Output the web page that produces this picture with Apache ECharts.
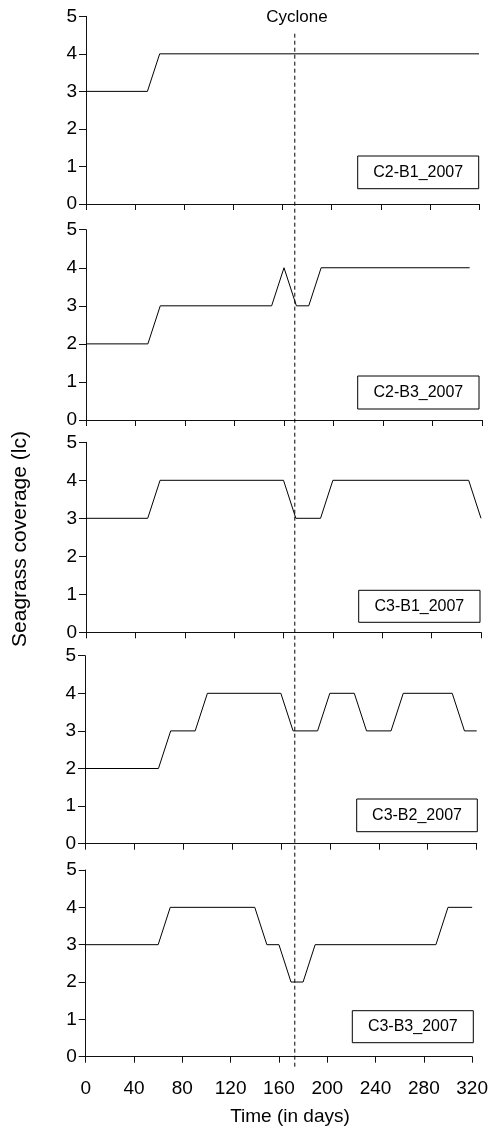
<!DOCTYPE html>
<html><head><meta charset="utf-8">
<script src="https://cdn.jsdelivr.net/npm/echarts@6/dist/echarts.min.js"></script>
<style>html,body{margin:0;padding:0;background:#fff}#c{width:491px;height:1130px}</style>
</head><body><div id="c"></div>
<script>
// ---- data ----
const panelLabels = ['C2-B1_2007', 'C2-B3_2007', 'C3-B1_2007', 'C3-B2_2007', 'C3-B3_2007'];
const c2b1Days = [0, 50, 60, 320];
const c2b1Cover = [3, 3, 4, 4];
const c2b3Days = [0, 50, 60, 150, 160, 170, 180, 190, 310];
const c2b3Cover = [2, 2, 3, 3, 4, 3, 3, 4, 4];
const c3b1Days = [0, 50, 60, 160, 170, 190, 200, 310, 320];
const c3b1Cover = [3, 3, 4, 4, 3, 3, 4, 4, 3];
const c3b2Days = [0, 60, 70, 90, 100, 160, 170, 190, 200, 220, 230, 250, 260, 300, 310, 320];
const c3b2Cover = [2, 2, 3, 3, 4, 4, 3, 3, 4, 4, 3, 3, 4, 4, 3, 3];
const c3b3Days = [0, 60, 70, 140, 150, 160, 170, 180, 190, 290, 300, 320];
const c3b3Cover = [3, 3, 4, 4, 3, 3, 2, 2, 3, 3, 4, 4];
const cycloneDay = 170;
const xTickLabels = [0, 40, 80, 120, 160, 200, 240, 280, 320];
const yTickLabels = [0, 1, 2, 3, 4, 5];
const xTitle = 'Time (in days)';
const yTitle = 'Seagrass coverage (lc)';
const eventLabel = 'Cyclone';

const allDays = [c2b1Days, c2b3Days, c3b1Days, c3b2Days, c3b3Days];
const allCover = [c2b1Cover, c2b3Cover, c3b1Cover, c3b2Cover, c3b3Cover];

// ---- layout ----
const FONT = '"Liberation Sans", Arial, Helvetica, sans-serif';
const grids = [
  {left: 86, top: 16.3, width: 393, height: 187.7},
  {left: 86, top: 229.7, width: 396, height: 190.3},
  {left: 86, top: 442.3, width: 395, height: 190},
  {left: 85, top: 655.7, width: 391.7, height: 188},
  {left: 85.7, top: 870, width: 387, height: 186.7}
];
const boxes = [
  {x: 357.7, y: 156, w: 121, h: 32.7},
  {x: 357.7, y: 376, w: 121.3, h: 33},
  {x: 358.7, y: 590.3, w: 121.3, h: 32},
  {x: 356.7, y: 799, w: 120.6, h: 32.7},
  {x: 352.3, y: 1010.7, w: 121, h: 32}
];

const xStep = xTickLabels[1] - xTickLabels[0];
const yStep = yTickLabels[1] - yTickLabels[0];
const axisColor = '#111';

const gridOpt = [], xAxes = [], yAxes = [], series = [], graphic = [];
grids.forEach((g, i) => {
  gridOpt.push(Object.assign({containLabel: false}, g));
  const last = i === grids.length - 1;
  xAxes.push({
    type: 'value', gridIndex: i,
    min: xTickLabels[0], max: xTickLabels[xTickLabels.length - 1], interval: xStep,
    axisLine: {show: true, lineStyle: {color: axisColor, width: 1}},
    axisTick: {show: true, inside: false, length: 6, lineStyle: {color: axisColor}},
    axisLabel: {show: last, margin: 23, fontSize: 19, color: '#000', fontFamily: FONT},
    splitLine: {show: false}
  });
  yAxes.push({
    type: 'value', gridIndex: i,
    min: yTickLabels[0], max: yTickLabels[yTickLabels.length - 1], interval: yStep,
    axisLine: {show: true, lineStyle: {color: axisColor, width: 1}},
    axisTick: {show: true, inside: false, length: 7, lineStyle: {color: axisColor}},
    axisLabel: {show: true, margin: 9, fontSize: 19, color: '#000', fontFamily: FONT},
    splitLine: {show: false}
  });
  series.push({
    type: 'line', xAxisIndex: i, yAxisIndex: i,
    data: allDays[i].map((d, j) => [d, allCover[i][j]]),
    symbol: 'none', lineStyle: {color: '#000', width: 1}, silent: true, z: 3
  });
  const b = boxes[i];
  graphic.push({
    type: 'rect', shape: {x: b.x, y: b.y, width: b.w, height: b.h},
    style: {stroke: '#000', fill: '#fff', lineWidth: 1}, z: 10
  });
  graphic.push({
    type: 'text', x: b.x + b.w / 2, y: b.y + b.h / 2, z: 11,
    style: {text: panelLabels[i], font: '16px ' + FONT, fill: '#000', textAlign: 'center', textVerticalAlign: 'middle'}
  });
});

// overlay grid for the cyclone line spanning all panels
gridOpt.push({left: 86, top: 31.7, width: 393, height: 1035});
xAxes.push({type: 'value', gridIndex: 5, min: xTickLabels[0], max: xTickLabels[xTickLabels.length - 1], show: false});
yAxes.push({type: 'value', gridIndex: 5, min: 0, max: 1, show: false});
series.push({
  type: 'line', xAxisIndex: 5, yAxisIndex: 5,
  data: [[cycloneDay, 0], [cycloneDay, 1]],
  symbol: 'none', lineStyle: {color: '#000', width: 1, type: [4, 3]}, silent: true, z: 4
});

graphic.push({
  type: 'text', x: 297, y: 17,
  style: {text: eventLabel, font: '17px ' + FONT, fill: '#000', textAlign: 'center', textVerticalAlign: 'middle'}
});
graphic.push({
  type: 'text', x: 290, y: 1117,
  style: {text: xTitle, font: '19px ' + FONT, fill: '#000', textAlign: 'center', textVerticalAlign: 'middle'}
});
graphic.push({
  type: 'text', x: 20, y: 539, rotation: Math.PI / 2,
  style: {text: yTitle, font: '21px ' + FONT, fill: '#000', textAlign: 'center', textVerticalAlign: 'middle'}
});

const chart = echarts.init(document.getElementById('c'), null, {renderer: 'canvas'});
chart.setOption({
  animation: false,
  backgroundColor: '#fff',
  grid: gridOpt,
  xAxis: xAxes,
  yAxis: yAxes,
  series: series,
  graphic: graphic
});
</script>
</body></html>
